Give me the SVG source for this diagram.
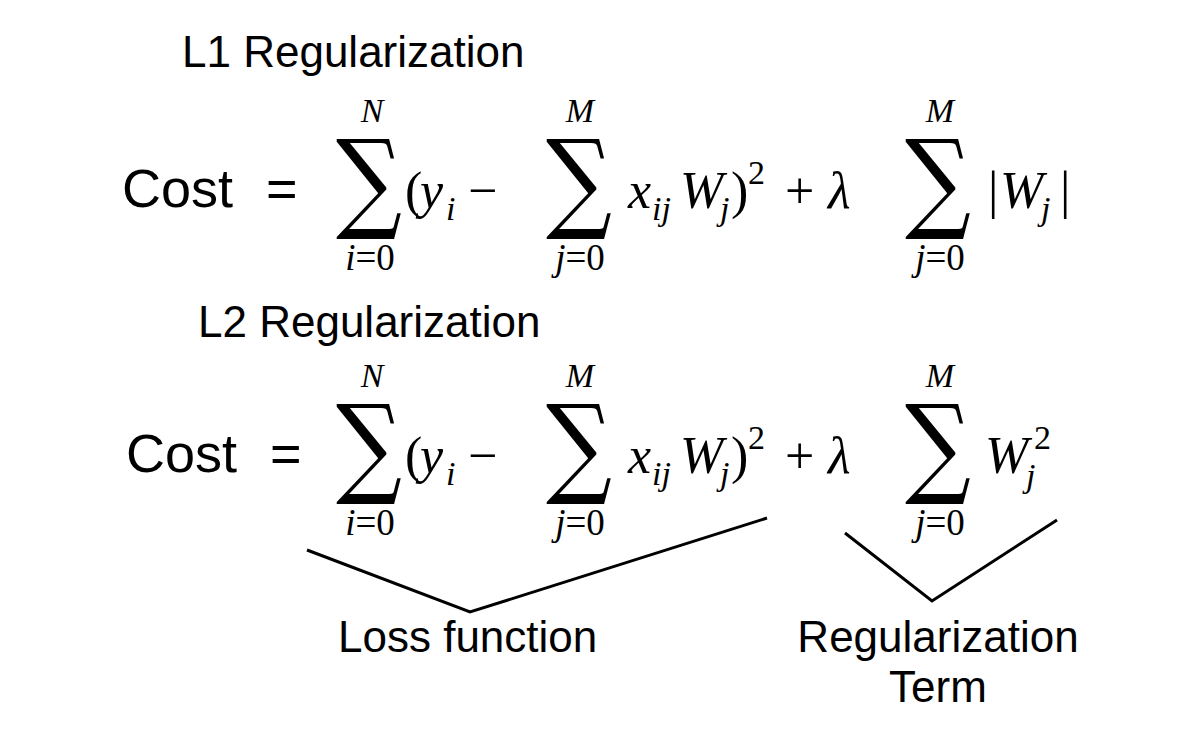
<svg xmlns="http://www.w3.org/2000/svg" width="1200" height="739" viewBox="0 0 1200 739">
<style>
.t{font-family:"Liberation Sans",Arial,sans-serif;fill:#000}
.m{font-family:"Liberation Serif","Times New Roman",serif;fill:#000;font-size:52px}
.mi{font-family:"Liberation Serif","Times New Roman",serif;font-style:italic;fill:#000;font-size:52px}
.s{font-family:"Liberation Serif","Times New Roman",serif;font-style:italic;fill:#000;font-size:34px}
.su{font-family:"Liberation Serif","Times New Roman",serif;font-style:normal;fill:#000;font-size:34px}
.ll{font-family:"Liberation Serif","Times New Roman",serif;font-style:italic;fill:#000;font-size:37px;text-anchor:middle}
.ll tspan{font-style:normal}
.sig{font-family:"DejaVu Serif",serif;fill:#000;font-size:110px;text-anchor:middle}
.lim{text-anchor:middle}
.br{fill:none;stroke:#000;stroke-width:3}
</style>
<rect width="1200" height="739" fill="#fff"/>
<g id="l1">
<text class="t" x="182" y="67" font-size="44">L1 Regularization</text>
<text class="t" x="122" y="207" font-size="54">Cost</text>
<text class="t" x="266" y="207" font-size="54">=</text>
<text class="sig" transform="translate(369,218) scale(0.84,1)">∑</text>
<text class="s lim" x="372" y="122">N</text>
<text class="ll" x="370" y="270">i<tspan>=0</tspan></text>
<text class="m" x="405" y="208">(</text>
<text class="mi" x="420" y="208">y</text>
<text class="s" x="446" y="220">i</text>
<text class="m" x="468" y="208">−</text>
<text class="sig" transform="translate(579,218) scale(0.84,1)">∑</text>
<text class="s lim" x="580" y="122">M</text>
<text class="ll" x="580" y="270">j<tspan>=0</tspan></text>
<text class="mi" x="628" y="208">x</text>
<text class="s" x="652" y="220">ij</text>
<text class="mi" x="680" y="208">W</text>
<text class="s" x="720" y="220">j</text>
<text class="m" x="731" y="208">)</text>
<text class="su" x="748" y="184">2</text>
<text class="m" x="785" y="208">+</text>
<text class="mi" x="828" y="208">λ</text>
<text class="sig" transform="translate(938,218) scale(0.84,1)">∑</text>
<text class="s lim" x="940" y="122">M</text>
<text class="ll" x="940" y="270">j<tspan>=0</tspan></text>
<text class="m" x="988" y="208">|</text>
<text class="mi" x="1000" y="208">W</text>
<text class="s" x="1041" y="220">j</text>
<text class="m" x="1060" y="208">|</text>
</g>
<g id="l2">
<text class="t" x="198" y="337" font-size="44">L2 Regularization</text>
<text class="t" x="126" y="472" font-size="54">Cost</text>
<text class="t" x="270" y="472" font-size="54">=</text>
<text class="sig" transform="translate(369,483) scale(0.84,1)">∑</text>
<text class="s lim" x="372" y="387">N</text>
<text class="ll" x="370" y="535">i<tspan>=0</tspan></text>
<text class="m" x="405" y="473">(</text>
<text class="mi" x="420" y="473">y</text>
<text class="s" x="446" y="485">i</text>
<text class="m" x="468" y="473">−</text>
<text class="sig" transform="translate(579,483) scale(0.84,1)">∑</text>
<text class="s lim" x="580" y="387">M</text>
<text class="ll" x="580" y="535">j<tspan>=0</tspan></text>
<text class="mi" x="628" y="473">x</text>
<text class="s" x="652" y="485">ij</text>
<text class="mi" x="680" y="473">W</text>
<text class="s" x="720" y="485">j</text>
<text class="m" x="731" y="473">)</text>
<text class="su" x="748" y="449">2</text>
<text class="m" x="785" y="473">+</text>
<text class="mi" x="828" y="473">λ</text>
<text class="sig" transform="translate(938,483) scale(0.84,1)">∑</text>
<text class="s lim" x="940" y="387">M</text>
<text class="ll" x="940" y="535">j<tspan>=0</tspan></text>
<text class="mi" x="985" y="473">W</text>
<text class="s" x="1026" y="487">j</text>
<text class="su" x="1034" y="449">2</text>
</g>
<g id="connectors">
<polyline class="br" points="307,550 470,612 767,518"/>
<polyline class="br" points="845,533 932,601 1057,520"/>
</g>
<g id="labels">
<text class="t" x="338" y="652" font-size="44">Loss function</text>
<text class="t" x="938" y="652" font-size="44" text-anchor="middle">Regularization</text>
<text class="t" x="938" y="702" font-size="44" text-anchor="middle">Term</text>
</g>
</svg>
